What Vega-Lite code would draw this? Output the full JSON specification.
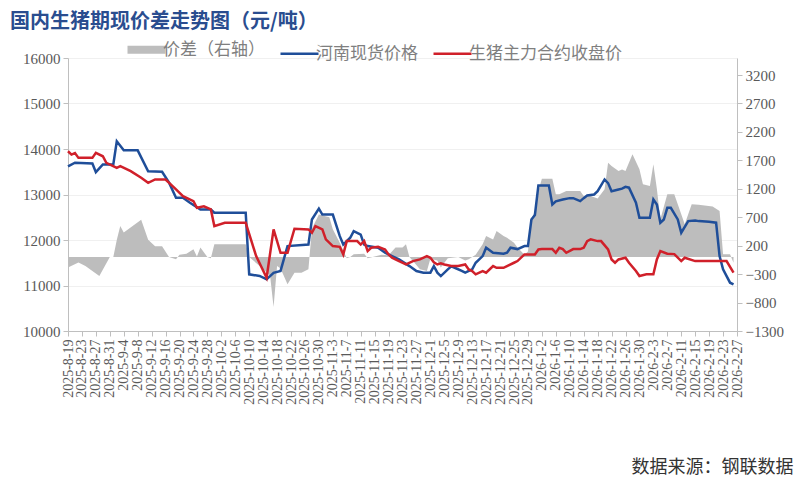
{
"$schema": "https://vega.github.io/schema/vega-lite/v6.json",
"width": 669, "height": 273,
"autosize": {"type": "none"},
"padding": {"left": 68, "top": 58, "right": 63, "bottom": 154},
"background": "white",
"title": {"text": "国内生猪期现价差走势图（元/吨）", "anchor": "start", "frame": "group", "dx": -58, "dy": 19, "offset": 28, "font": "Noto Sans CJK SC", "fontSize": 20, "fontWeight": "bold", "color": "#2a4d8f"},
"config": {"view": {"stroke": null}},
"data": {"values": [
{"date":"2025-08-19","series":"河南现货价格","value":13620},
{"date":"2025-08-21","series":"河南现货价格","value":13700},
{"date":"2025-08-26","series":"河南现货价格","value":13680},
{"date":"2025-08-27","series":"河南现货价格","value":13490},
{"date":"2025-08-29","series":"河南现货价格","value":13660},
{"date":"2025-09-01","series":"河南现货价格","value":13660},
{"date":"2025-09-02","series":"河南现货价格","value":14170},
{"date":"2025-09-04","series":"河南现货价格","value":13970},
{"date":"2025-09-08","series":"河南现货价格","value":13970},
{"date":"2025-09-11","series":"河南现货价格","value":13510},
{"date":"2025-09-15","series":"河南现货价格","value":13500},
{"date":"2025-09-17","series":"河南现货价格","value":13260},
{"date":"2025-09-19","series":"河南现货价格","value":12930},
{"date":"2025-09-21","series":"河南现货价格","value":12930},
{"date":"2025-09-23","series":"河南现货价格","value":12820},
{"date":"2025-09-26","series":"河南现货价格","value":12670},
{"date":"2025-09-29","series":"河南现货价格","value":12670},
{"date":"2025-09-30","series":"河南现货价格","value":12600},
{"date":"2025-10-09","series":"河南现货价格","value":12600},
{"date":"2025-10-10","series":"河南现货价格","value":11245},
{"date":"2025-10-13","series":"河南现货价格","value":11210},
{"date":"2025-10-15","series":"河南现货价格","value":11135},
{"date":"2025-10-17","series":"河南现货价格","value":11280},
{"date":"2025-10-19","series":"河南现货价格","value":11320},
{"date":"2025-10-21","series":"河南现货价格","value":11866},
{"date":"2025-10-27","series":"河南现货价格","value":11900},
{"date":"2025-10-28","series":"河南现货价格","value":12450},
{"date":"2025-10-30","series":"河南现货价格","value":12690},
{"date":"2025-10-31","series":"河南现货价格","value":12560},
{"date":"2025-11-03","series":"河南现货价格","value":12560},
{"date":"2025-11-05","series":"河南现货价格","value":12085},
{"date":"2025-11-06","series":"河南现货价格","value":11900},
{"date":"2025-11-08","series":"河南现货价格","value":12050},
{"date":"2025-11-09","series":"河南现货价格","value":12195},
{"date":"2025-11-11","series":"河南现货价格","value":12120},
{"date":"2025-11-12","series":"河南现货价格","value":11900},
{"date":"2025-11-13","series":"河南现货价格","value":11866},
{"date":"2025-11-16","series":"河南现货价格","value":11830},
{"date":"2025-11-18","series":"河南现货价格","value":11720},
{"date":"2025-11-20","series":"河南现货价格","value":11646},
{"date":"2025-11-22","series":"河南现货价格","value":11573},
{"date":"2025-11-25","series":"河南现货价格","value":11427},
{"date":"2025-11-27","series":"河南现货价格","value":11318},
{"date":"2025-11-29","series":"河南现货价格","value":11282},
{"date":"2025-12-01","series":"河南现货价格","value":11282},
{"date":"2025-12-02","series":"河南现货价格","value":11427},
{"date":"2025-12-03","series":"河南现货价格","value":11282},
{"date":"2025-12-04","series":"河南现货价格","value":11208},
{"date":"2025-12-06","series":"河南现货价格","value":11354},
{"date":"2025-12-07","series":"河南现货价格","value":11420},
{"date":"2025-12-08","series":"河南现货价格","value":11390},
{"date":"2025-12-10","series":"河南现货价格","value":11320},
{"date":"2025-12-11","series":"河南现货价格","value":11282},
{"date":"2025-12-13","series":"河南现货价格","value":11354},
{"date":"2025-12-14","series":"河南现货价格","value":11500},
{"date":"2025-12-16","series":"河南现货价格","value":11646},
{"date":"2025-12-17","series":"河南现货价格","value":11830},
{"date":"2025-12-19","series":"河南现货价格","value":11721},
{"date":"2025-12-22","series":"河南现货价格","value":11700},
{"date":"2025-12-23","series":"河南现货价格","value":11721},
{"date":"2025-12-24","series":"河南现货价格","value":11830},
{"date":"2025-12-26","series":"河南现货价格","value":11800},
{"date":"2025-12-28","series":"河南现货价格","value":11866},
{"date":"2025-12-29","series":"河南现货价格","value":11866},
{"date":"2025-12-30","series":"河南现货价格","value":12450},
{"date":"2025-12-31","series":"河南现货价格","value":12550},
{"date":"2026-01-01","series":"河南现货价格","value":13200},
{"date":"2026-01-04","series":"河南现货价格","value":13200},
{"date":"2026-01-05","series":"河南现货价格","value":12780},
{"date":"2026-01-06","series":"河南现货价格","value":12850},
{"date":"2026-01-08","series":"河南现货价格","value":12890},
{"date":"2026-01-10","series":"河南现货价格","value":12920},
{"date":"2026-01-11","series":"河南现货价格","value":12920},
{"date":"2026-01-13","series":"河南现货价格","value":12855},
{"date":"2026-01-14","series":"河南现货价格","value":12920},
{"date":"2026-01-15","series":"河南现货价格","value":12978},
{"date":"2026-01-17","series":"河南现货价格","value":13000},
{"date":"2026-01-18","series":"河南现货价格","value":13073},
{"date":"2026-01-20","series":"河南现货价格","value":13330},
{"date":"2026-01-21","series":"河南现货价格","value":13250},
{"date":"2026-01-22","series":"河南现货价格","value":13073},
{"date":"2026-01-24","series":"河南现货价格","value":13110},
{"date":"2026-01-25","series":"河南现货价格","value":13130},
{"date":"2026-01-26","series":"河南现货价格","value":13169},
{"date":"2026-01-27","series":"河南现货价格","value":13150},
{"date":"2026-01-29","series":"河南现货价格","value":12818},
{"date":"2026-01-30","series":"河南现货价格","value":12488},
{"date":"2026-02-02","series":"河南现货价格","value":12488},
{"date":"2026-02-03","series":"河南现货价格","value":12891},
{"date":"2026-02-04","series":"河南现货价格","value":12780},
{"date":"2026-02-05","series":"河南现货价格","value":12379},
{"date":"2026-02-06","series":"河南现货价格","value":12450},
{"date":"2026-02-07","series":"河南现货价格","value":12708},
{"date":"2026-02-08","series":"河南现货价格","value":12708},
{"date":"2026-02-10","series":"河南现货价格","value":12452},
{"date":"2026-02-11","series":"河南现货价格","value":12159},
{"date":"2026-02-13","series":"河南现货价格","value":12415},
{"date":"2026-02-15","series":"河南现货价格","value":12430},
{"date":"2026-02-16","series":"河南现货价格","value":12415},
{"date":"2026-02-19","series":"河南现货价格","value":12400},
{"date":"2026-02-21","series":"河南现货价格","value":12380},
{"date":"2026-02-22","series":"河南现货价格","value":11646},
{"date":"2026-02-23","series":"河南现货价格","value":11354},
{"date":"2026-02-25","series":"河南现货价格","value":11062},
{"date":"2026-02-26","series":"河南现货价格","value":11025},
{"date":"2025-08-19","series":"生猪主力合约收盘价","value":13950},
{"date":"2025-08-20","series":"生猪主力合约收盘价","value":13878},
{"date":"2025-08-21","series":"生猪主力合约收盘价","value":13910},
{"date":"2025-08-22","series":"生猪主力合约收盘价","value":13805},
{"date":"2025-08-26","series":"生猪主力合约收盘价","value":13805},
{"date":"2025-08-27","series":"生猪主力合约收盘价","value":13915},
{"date":"2025-08-29","series":"生猪主力合约收盘价","value":13840},
{"date":"2025-08-30","series":"生猪主力合约收盘价","value":13696},
{"date":"2025-09-02","series":"生猪主力合约收盘价","value":13586},
{"date":"2025-09-03","series":"生猪主力合约收盘价","value":13622},
{"date":"2025-09-06","series":"生猪主力合约收盘价","value":13512},
{"date":"2025-09-09","series":"生猪主力合约收盘价","value":13367},
{"date":"2025-09-11","series":"生猪主力合约收盘价","value":13257},
{"date":"2025-09-13","series":"生猪主力合约收盘价","value":13330},
{"date":"2025-09-16","series":"生猪主力合约收盘价","value":13330},
{"date":"2025-09-19","series":"生猪主力合约收盘价","value":13111},
{"date":"2025-09-21","series":"生猪主力合约收盘价","value":12964},
{"date":"2025-09-24","series":"生猪主力合约收盘价","value":12855},
{"date":"2025-09-25","series":"生猪主力合约收盘价","value":12708},
{"date":"2025-09-27","series":"生猪主力合约收盘价","value":12740},
{"date":"2025-09-29","series":"生猪主力合约收盘价","value":12671},
{"date":"2025-09-30","series":"生猪主力合约收盘价","value":12305},
{"date":"2025-10-03","series":"生猪主力合约收盘价","value":12379},
{"date":"2025-10-09","series":"生猪主力合约收盘价","value":12379},
{"date":"2025-10-12","series":"生猪主力合约收盘价","value":11646},
{"date":"2025-10-15","series":"生猪主力合约收盘价","value":11172},
{"date":"2025-10-17","series":"生猪主力合约收盘价","value":12232},
{"date":"2025-10-19","series":"生猪主力合约收盘价","value":11720},
{"date":"2025-10-21","series":"生猪主力合约收盘价","value":11720},
{"date":"2025-10-23","series":"生猪主力合约收盘价","value":12247},
{"date":"2025-10-27","series":"生猪主力合约收盘价","value":12232},
{"date":"2025-10-28","series":"生猪主力合约收盘价","value":12159},
{"date":"2025-10-29","series":"生猪主力合约收盘价","value":12305},
{"date":"2025-10-31","series":"生猪主力合约收盘价","value":12232},
{"date":"2025-11-01","series":"生猪主力合约收盘价","value":12013},
{"date":"2025-11-03","series":"生猪主力合约收盘价","value":11866},
{"date":"2025-11-05","series":"生猪主力合约收盘价","value":11850},
{"date":"2025-11-06","series":"生猪主力合约收盘价","value":11683},
{"date":"2025-11-07","series":"生猪主力合约收盘价","value":11976},
{"date":"2025-11-10","series":"生猪主力合约收盘价","value":11976},
{"date":"2025-11-11","series":"生猪主力合约收盘价","value":11900},
{"date":"2025-11-12","series":"生猪主力合约收盘价","value":11976},
{"date":"2025-11-13","series":"生猪主力合约收盘价","value":11757},
{"date":"2025-11-14","series":"生猪主力合约收盘价","value":11830},
{"date":"2025-11-16","series":"生猪主力合约收盘价","value":11850},
{"date":"2025-11-18","series":"生猪主力合约收盘价","value":11790},
{"date":"2025-11-19","series":"生猪主力合约收盘价","value":11683},
{"date":"2025-11-20","series":"生猪主力合约收盘价","value":11610},
{"date":"2025-11-22","series":"生猪主力合约收盘价","value":11537},
{"date":"2025-11-24","series":"生猪主力合约收盘价","value":11463},
{"date":"2025-11-26","series":"生猪主力合约收盘价","value":11537},
{"date":"2025-11-28","series":"生猪主力合约收盘价","value":11573},
{"date":"2025-11-30","series":"生猪主力合约收盘价","value":11646},
{"date":"2025-12-01","series":"生猪主力合约收盘价","value":11610},
{"date":"2025-12-02","series":"生猪主力合约收盘价","value":11512},
{"date":"2025-12-03","series":"生猪主力合约收盘价","value":11463},
{"date":"2025-12-04","series":"生猪主力合约收盘价","value":11490},
{"date":"2025-12-05","series":"生猪主力合约收盘价","value":11463},
{"date":"2025-12-07","series":"生猪主力合约收盘价","value":11427},
{"date":"2025-12-09","series":"生猪主力合约收盘价","value":11427},
{"date":"2025-12-11","series":"生猪主力合约收盘价","value":11463},
{"date":"2025-12-12","series":"生猪主力合约收盘价","value":11354},
{"date":"2025-12-13","series":"生猪主力合约收盘价","value":11318},
{"date":"2025-12-14","series":"生猪主力合约收盘价","value":11245},
{"date":"2025-12-16","series":"生猪主力合约收盘价","value":11318},
{"date":"2025-12-17","series":"生猪主力合约收盘价","value":11282},
{"date":"2025-12-19","series":"生猪主力合约收盘价","value":11427},
{"date":"2025-12-20","series":"生猪主力合约收盘价","value":11390},
{"date":"2025-12-22","series":"生猪主力合约收盘价","value":11390},
{"date":"2025-12-23","series":"生猪主力合约收盘价","value":11427},
{"date":"2025-12-25","series":"生猪主力合约收盘价","value":11500},
{"date":"2025-12-26","series":"生猪主力合约收盘价","value":11537},
{"date":"2025-12-28","series":"生猪主力合约收盘价","value":11683},
{"date":"2025-12-31","series":"生猪主力合约收盘价","value":11683},
{"date":"2026-01-01","series":"生猪主力合约收盘价","value":11793},
{"date":"2026-01-02","series":"生猪主力合约收盘价","value":11800},
{"date":"2026-01-05","series":"生猪主力合约收盘价","value":11800},
{"date":"2026-01-06","series":"生猪主力合约收盘价","value":11720},
{"date":"2026-01-07","series":"生猪主力合约收盘价","value":11830},
{"date":"2026-01-08","series":"生猪主力合约收盘价","value":11800},
{"date":"2026-01-09","series":"生猪主力合约收盘价","value":11720},
{"date":"2026-01-11","series":"生猪主力合约收盘价","value":11800},
{"date":"2026-01-13","series":"生猪主力合约收盘价","value":11800},
{"date":"2026-01-14","series":"生猪主力合约收盘价","value":11830},
{"date":"2026-01-15","series":"生猪主力合约收盘价","value":11976},
{"date":"2026-01-16","series":"生猪主力合约收盘价","value":12013},
{"date":"2026-01-18","series":"生猪主力合约收盘价","value":11976},
{"date":"2026-01-19","series":"生猪主力合约收盘价","value":11976},
{"date":"2026-01-21","series":"生猪主力合约收盘价","value":11793},
{"date":"2026-01-22","series":"生猪主力合约收盘价","value":11573},
{"date":"2026-01-23","series":"生猪主力合约收盘价","value":11500},
{"date":"2026-01-24","series":"生猪主力合约收盘价","value":11573},
{"date":"2026-01-26","series":"生猪主力合约收盘价","value":11610},
{"date":"2026-01-27","series":"生猪主力合约收盘价","value":11500},
{"date":"2026-01-29","series":"生猪主力合约收盘价","value":11318},
{"date":"2026-01-30","series":"生猪主力合约收盘价","value":11208},
{"date":"2026-02-01","series":"生猪主力合约收盘价","value":11245},
{"date":"2026-02-03","series":"生猪主力合约收盘价","value":11245},
{"date":"2026-02-04","series":"生猪主力合约收盘价","value":11573},
{"date":"2026-02-05","series":"生猪主力合约收盘价","value":11757},
{"date":"2026-02-07","series":"生猪主力合约收盘价","value":11700},
{"date":"2026-02-09","series":"生猪主力合约收盘价","value":11690},
{"date":"2026-02-11","series":"生猪主力合约收盘价","value":11537},
{"date":"2026-02-12","series":"生猪主力合约收盘价","value":11610},
{"date":"2026-02-15","series":"生猪主力合约收盘价","value":11537},
{"date":"2026-02-18","series":"生猪主力合约收盘价","value":11537},
{"date":"2026-02-24","series":"生猪主力合约收盘价","value":11537},
{"date":"2026-02-26","series":"生猪主力合约收盘价","value":11282},
{"date":"2025-08-19","series":"价差（右轴）","value":-185},
{"date":"2025-08-22","series":"价差（右轴）","value":-97},
{"date":"2025-08-24","series":"价差（右轴）","value":-156},
{"date":"2025-08-28","series":"价差（右轴）","value":-332},
{"date":"2025-08-31","series":"价差（右轴）","value":0},
{"date":"2025-09-01","series":"价差（右轴）","value":0},
{"date":"2025-09-02","series":"价差（右轴）","value":300},
{"date":"2025-09-03","series":"价差（右轴）","value":546},
{"date":"2025-09-04","series":"价差（右轴）","value":430},
{"date":"2025-09-09","series":"价差（右轴）","value":658},
{"date":"2025-09-11","series":"价差（右轴）","value":306},
{"date":"2025-09-13","series":"价差（右轴）","value":188},
{"date":"2025-09-15","series":"价差（右轴）","value":188},
{"date":"2025-09-17","series":"价差（右轴）","value":0},
{"date":"2025-09-19","series":"价差（右轴）","value":-40},
{"date":"2025-09-20","series":"价差（右轴）","value":40},
{"date":"2025-09-22","series":"价差（右轴）","value":60},
{"date":"2025-09-24","series":"价差（右轴）","value":137},
{"date":"2025-09-25","series":"价差（右轴）","value":10},
{"date":"2025-09-26","series":"价差（右轴）","value":166},
{"date":"2025-09-28","series":"价差（右轴）","value":0},
{"date":"2025-09-29","series":"价差（右轴）","value":-20},
{"date":"2025-09-30","series":"价差（右轴）","value":225},
{"date":"2025-10-09","series":"价差（右轴）","value":225},
{"date":"2025-10-10","series":"价差（右轴）","value":0},
{"date":"2025-10-13","series":"价差（右轴）","value":-156},
{"date":"2025-10-16","series":"价差（右轴）","value":-330},
{"date":"2025-10-17","series":"价差（右轴）","value":-880},
{"date":"2025-10-18","series":"价差（右轴）","value":-156},
{"date":"2025-10-19","series":"价差（右轴）","value":-200},
{"date":"2025-10-21","series":"价差（右轴）","value":-480},
{"date":"2025-10-23","series":"价差（右轴）","value":-275},
{"date":"2025-10-25","series":"价差（右轴）","value":-275},
{"date":"2025-10-27","series":"价差（右轴）","value":-215},
{"date":"2025-10-28","series":"价差（右轴）","value":500},
{"date":"2025-10-30","series":"价差（右轴）","value":750},
{"date":"2025-11-02","series":"价差（右轴）","value":700},
{"date":"2025-11-03","series":"价差（右轴）","value":487},
{"date":"2025-11-05","series":"价差（右轴）","value":253},
{"date":"2025-11-07","series":"价差（右轴）","value":-20},
{"date":"2025-11-08","series":"价差（右轴）","value":0},
{"date":"2025-11-09","series":"价差（右轴）","value":50},
{"date":"2025-11-12","series":"价差（右轴）","value":60},
{"date":"2025-11-13","series":"价差（右轴）","value":-20},
{"date":"2025-11-17","series":"价差（右轴）","value":40},
{"date":"2025-11-19","series":"价差（右轴）","value":30},
{"date":"2025-11-21","series":"价差（右轴）","value":166},
{"date":"2025-11-23","series":"价差（右轴）","value":166},
{"date":"2025-11-24","series":"价差（右轴）","value":225},
{"date":"2025-11-25","series":"价差（右轴）","value":0},
{"date":"2025-11-26","series":"价差（右轴）","value":-70},
{"date":"2025-11-28","series":"价差（右轴）","value":-215},
{"date":"2025-11-30","series":"价差（右轴）","value":-245},
{"date":"2025-12-01","series":"价差（右轴）","value":-30},
{"date":"2025-12-03","series":"价差（右轴）","value":-60},
{"date":"2025-12-04","series":"价差（右轴）","value":-185},
{"date":"2025-12-06","series":"价差（右轴）","value":-20},
{"date":"2025-12-09","series":"价差（右轴）","value":0},
{"date":"2025-12-11","series":"价差（右轴）","value":-60},
{"date":"2025-12-12","series":"价差（右轴）","value":-40},
{"date":"2025-12-14","series":"价差（右轴）","value":40},
{"date":"2025-12-16","series":"价差（右轴）","value":225},
{"date":"2025-12-17","series":"价差（右轴）","value":370},
{"date":"2025-12-19","series":"价差（右轴）","value":310},
{"date":"2025-12-20","series":"价差（右轴）","value":458},
{"date":"2025-12-22","series":"价差（右轴）","value":370},
{"date":"2025-12-23","series":"价差（右轴）","value":340},
{"date":"2025-12-25","series":"价差（右轴）","value":250},
{"date":"2025-12-26","series":"价差（右轴）","value":166},
{"date":"2025-12-28","series":"价差（右轴）","value":40},
{"date":"2025-12-29","series":"价差（右轴）","value":100},
{"date":"2025-12-30","series":"价差（右轴）","value":664},
{"date":"2025-12-31","series":"价差（右轴）","value":800},
{"date":"2026-01-01","series":"价差（右轴）","value":1160},
{"date":"2026-01-02","series":"价差（右轴）","value":1378},
{"date":"2026-01-05","series":"价差（右轴）","value":1378},
{"date":"2026-01-06","series":"价差（右轴）","value":1103},
{"date":"2026-01-07","series":"价差（右轴）","value":1103},
{"date":"2026-01-09","series":"价差（右轴）","value":1161},
{"date":"2026-01-13","series":"价差（右轴）","value":1161},
{"date":"2026-01-14","series":"价差（右轴）","value":1074},
{"date":"2026-01-16","series":"价差（右轴）","value":1074},
{"date":"2026-01-18","series":"价差（右轴）","value":1030},
{"date":"2026-01-20","series":"价差（右轴）","value":1191},
{"date":"2026-01-21","series":"价差（右轴）","value":1660},
{"date":"2026-01-22","series":"价差（右轴）","value":1601},
{"date":"2026-01-24","series":"价差（右轴）","value":1513},
{"date":"2026-01-25","series":"价差（右轴）","value":1540},
{"date":"2026-01-26","series":"价差（右轴）","value":1513},
{"date":"2026-01-28","series":"价差（右轴）","value":1806},
{"date":"2026-01-30","series":"价差（右轴）","value":1543},
{"date":"2026-01-31","series":"价差（右轴）","value":1279},
{"date":"2026-02-02","series":"价差（右轴）","value":1250},
{"date":"2026-02-03","series":"价差（右轴）","value":1630},
{"date":"2026-02-04","series":"价差（右轴）","value":1200},
{"date":"2026-02-05","series":"价差（右轴）","value":664},
{"date":"2026-02-07","series":"价差（右轴）","value":1103},
{"date":"2026-02-09","series":"价差（右轴）","value":1103},
{"date":"2026-02-11","series":"价差（右轴）","value":752},
{"date":"2026-02-12","series":"价差（右轴）","value":576},
{"date":"2026-02-14","series":"价差（右轴）","value":928},
{"date":"2026-02-16","series":"价差（右轴）","value":920},
{"date":"2026-02-20","series":"价差（右轴）","value":888},
{"date":"2026-02-21","series":"价差（右轴）","value":850},
{"date":"2026-02-22","series":"价差（右轴）","value":810},
{"date":"2026-02-23","series":"价差（右轴）","value":50},
{"date":"2026-02-25","series":"价差（右轴）","value":50},
{"date":"2026-02-26","series":"价差（右轴）","value":-100}
]},
"encoding": {
  "x": {"field": "date", "type": "temporal",
    "scale": {"type": "utc", "domain": [{"year":2025,"month":8,"date":19,"utc":true},{"year":2026,"month":2,"date":27,"utc":true}]},
    "axis": {
      "values": [
        {"year":2025,"month":8,"date":19,"utc":true},{"year":2025,"month":8,"date":23,"utc":true},{"year":2025,"month":8,"date":27,"utc":true},{"year":2025,"month":8,"date":31,"utc":true},
        {"year":2025,"month":9,"date":4,"utc":true},{"year":2025,"month":9,"date":8,"utc":true},{"year":2025,"month":9,"date":12,"utc":true},{"year":2025,"month":9,"date":16,"utc":true},{"year":2025,"month":9,"date":20,"utc":true},{"year":2025,"month":9,"date":24,"utc":true},{"year":2025,"month":9,"date":28,"utc":true},
        {"year":2025,"month":10,"date":2,"utc":true},{"year":2025,"month":10,"date":6,"utc":true},{"year":2025,"month":10,"date":10,"utc":true},{"year":2025,"month":10,"date":14,"utc":true},{"year":2025,"month":10,"date":18,"utc":true},{"year":2025,"month":10,"date":22,"utc":true},{"year":2025,"month":10,"date":26,"utc":true},{"year":2025,"month":10,"date":30,"utc":true},
        {"year":2025,"month":11,"date":3,"utc":true},{"year":2025,"month":11,"date":7,"utc":true},{"year":2025,"month":11,"date":11,"utc":true},{"year":2025,"month":11,"date":15,"utc":true},{"year":2025,"month":11,"date":19,"utc":true},{"year":2025,"month":11,"date":23,"utc":true},{"year":2025,"month":11,"date":27,"utc":true},
        {"year":2025,"month":12,"date":1,"utc":true},{"year":2025,"month":12,"date":5,"utc":true},{"year":2025,"month":12,"date":9,"utc":true},{"year":2025,"month":12,"date":13,"utc":true},{"year":2025,"month":12,"date":17,"utc":true},{"year":2025,"month":12,"date":21,"utc":true},{"year":2025,"month":12,"date":25,"utc":true},{"year":2025,"month":12,"date":29,"utc":true},
        {"year":2026,"month":1,"date":2,"utc":true},{"year":2026,"month":1,"date":6,"utc":true},{"year":2026,"month":1,"date":10,"utc":true},{"year":2026,"month":1,"date":14,"utc":true},{"year":2026,"month":1,"date":18,"utc":true},{"year":2026,"month":1,"date":22,"utc":true},{"year":2026,"month":1,"date":26,"utc":true},{"year":2026,"month":1,"date":30,"utc":true},
        {"year":2026,"month":2,"date":3,"utc":true},{"year":2026,"month":2,"date":7,"utc":true},{"year":2026,"month":2,"date":11,"utc":true},{"year":2026,"month":2,"date":15,"utc":true},{"year":2026,"month":2,"date":19,"utc":true},{"year":2026,"month":2,"date":23,"utc":true},{"year":2026,"month":2,"date":27,"utc":true}
      ],
      "labelExpr": "utcFormat(datum.value, '%Y-%-m-%-d')",
      "labelAngle": 270, "labelFlush": false, "labelOverlap": false,
      "labelFont": "Liberation Serif", "labelFontSize": 14, "labelColor": "#595959", "labelPadding": 3,
      "tickSize": 5, "tickColor": "#bfbfbf", "domainColor": "#bfbfbf", "grid": false,
      "title": "数据来源：钢联数据", "titleX": 725, "titleY": 136, "titleAlign": "right", "titleBaseline": "middle", "titleAnchor": null,
      "titleFont": "Noto Sans CJK SC", "titleFontSize": 18, "titleFontWeight": "normal", "titleColor": "#333333"
    }
  },
  "color": {"field": "series", "type": "nominal",
    "scale": {"domain": ["价差（右轴）", "河南现货价格", "生猪主力合约收盘价"], "range": ["#bdbdbd", "#1f4e99", "#d0202a"]},
    "legend": {"orient": "none", "legendX": 70, "legendY": -17, "direction": "horizontal", "title": null,
      "symbolType": "stroke", "symbolSize": 1444, "symbolStrokeWidth": 2.5,
      "labelFont": "Noto Sans CJK SC", "labelFontSize": 17, "labelColor": "#7f7f7f", "labelOffset": 8, "columnPadding": 10,
      "encode": {"symbols": {"update": {"strokeWidth": {"signal": "datum.value === '价差（右轴）' ? 8 : 2.5"}, "stroke": {"scale": "color", "field": "value"}, "opacity": {"value": 1}}}}
    }
  }
},
"layer": [
  {"transform": [{"filter": "datum.series === '价差（右轴）'"}],
   "mark": {"type": "area", "opacity": 1},
   "encoding": {
     "y": {"field": "value", "type": "quantitative", "scale": {"domain": [-1300, 3500], "zero": false, "nice": false},
       "axis": {"orient": "right", "title": null, "format": "d", "values": [-1300, -800, -300, 200, 700, 1200, 1700, 2200, 2700, 3200], "grid": false,
         "labelFont": "Liberation Serif", "labelFontSize": 15, "labelColor": "#595959", "labelPadding": 3, "tickSize": 5, "tickColor": "#bfbfbf", "domainColor": "#bfbfbf"}},
     "y2": {"datum": 0}
   }},
  {"transform": [{"filter": "datum.series !== '价差（右轴）'"}],
   "mark": {"type": "line", "strokeWidth": 2.5},
   "encoding": {
     "y": {"field": "value", "type": "quantitative", "scale": {"domain": [10000, 16000], "zero": false, "nice": false},
       "axis": {"orient": "left", "title": null, "format": "d", "values": [10000, 11000, 12000, 13000, 14000, 15000, 16000], "grid": true, "gridColor": "#f0f0f0",
         "labelFont": "Liberation Serif", "labelFontSize": 15, "labelColor": "#595959", "labelPadding": 3, "tickSize": 5, "tickColor": "#bfbfbf", "domainColor": "#bfbfbf"}}
   }}
],
"resolve": {"scale": {"y": "independent"}}
}
